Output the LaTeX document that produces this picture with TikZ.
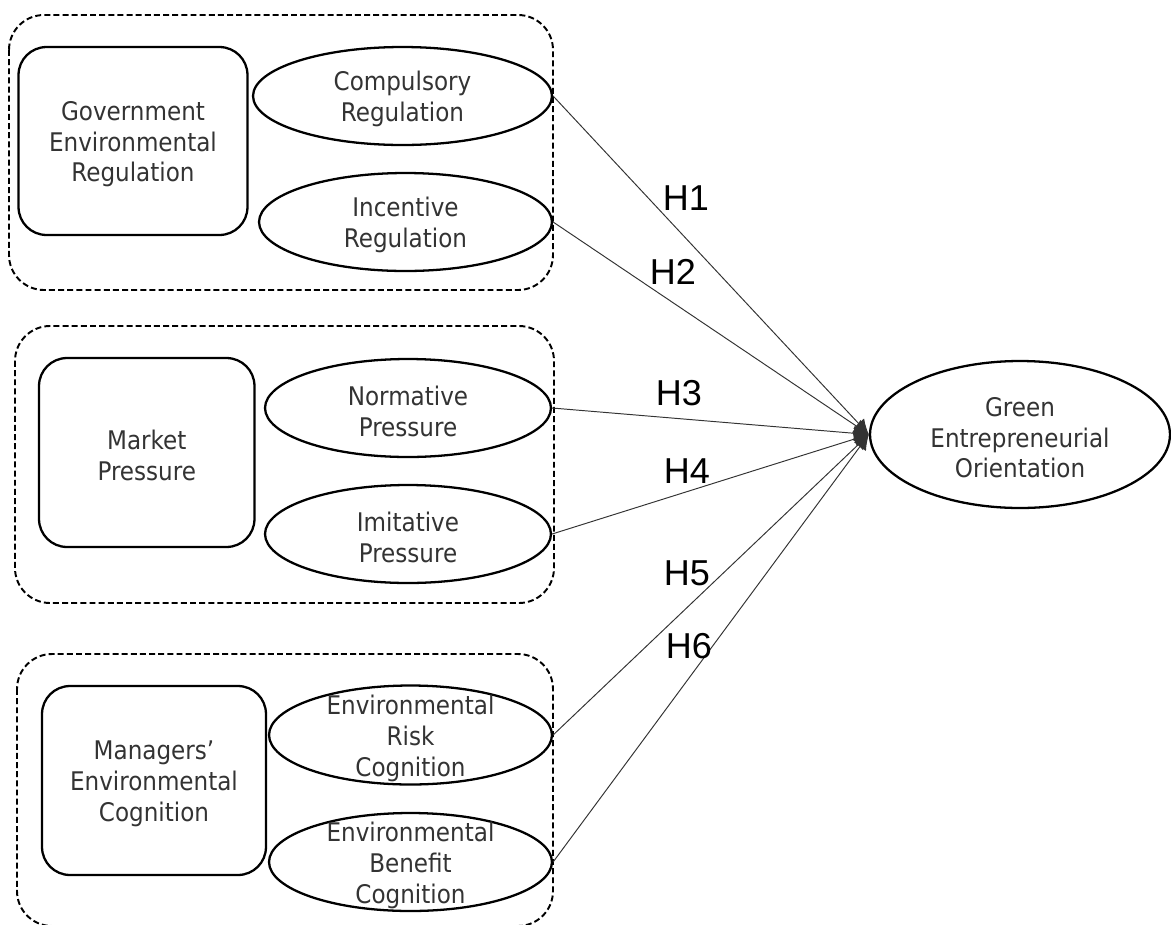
\documentclass[tikz,border=0pt]{standalone}
\usepackage{fontspec}
\setmainfont{DejaVu Sans Condensed}
\newfontfamily\hfont{Liberation Sans}
\usetikzlibrary{shapes.geometric,arrows.meta}
\begin{document}
\begin{tikzpicture}[x=0.02cm,y=-0.02cm,
  grp/.style={draw=black, line width=1.1pt, dash pattern=on 3.4pt off 1.8pt, rounded corners=0.7cm},
  cbox/.style={draw=black, line width=1.3pt, rounded corners=0.56cm, rectangle, inner sep=0pt},
  ell/.style={draw=black, line width=1.3pt, ellipse, inner sep=0pt},
  txt/.style={text=black!80, align=center, inner sep=0pt, yshift=-1.8pt, font=\fontsize{14.6}{17.6}\selectfont},
  hyp/.style={font=\hfont\fontsize{20.5}{24}\selectfont, inner sep=0pt},
  conn/.style={draw=black!80, line width=0.55pt, -{Latex[length=0.3cm,width=0.3cm]}}]

\useasboundingbox (0,0) rectangle (1171,924);

% group containers
\draw[grp] (9,15) rectangle (553,290);
\draw[grp] (15,326) rectangle (554,603);
\draw[grp] (17,654) rectangle (553,926);

% construct boxes
\node[cbox, minimum width=4.58cm, minimum height=3.76cm, label={[txt]center:Government\\Environmental\\Regulation}] (ger) at (133,141) {};
\node[cbox, minimum width=4.31cm, minimum height=3.78cm, label={[txt]center:Market\\Pressure}] (mp) at (146.75,452.5) {};
\node[cbox, minimum width=4.48cm, minimum height=3.78cm, label={[txt]center:Managers’\\Environmental\\Cognition}] (mec) at (154,780.5) {};

% dimension ellipses
\node[ell, minimum width=5.98cm, minimum height=1.96cm, label={[txt]center:Compulsory\\Regulation}] (cr) at (402.5,96) {};
\node[ell, minimum width=5.86cm, minimum height=1.96cm, label={[txt]center:Incentive\\Regulation}] (ir) at (405.5,222) {};
\node[ell, minimum width=5.72cm, minimum height=1.96cm, label={[txt]center:Normative\\Pressure}] (np) at (408,408) {};
\node[ell, minimum width=5.72cm, minimum height=1.96cm, label={[txt]center:Imitative\\Pressure}] (ip) at (408,534) {};
\node[ell, minimum width=5.66cm, minimum height=1.98cm, label={[txt]center:Environmental\\Risk\\Cognition}] (erc) at (410.5,735) {};
\node[ell, minimum width=5.66cm, minimum height=1.96cm, label={[txt]center:Environmental\\Benefit\\Cognition}] (ebc) at (410.5,862) {};

% outcome
\node[ell, minimum width=6cm, minimum height=2.94cm, label={[txt]center:Green\\Entrepreneurial\\Orientation}] (geo) at (1020,434.5) {};

% connectors
\draw[conn] (cr.east) -- (geo.west);
\draw[conn] (ir.east) -- (geo.west);
\draw[conn] (np.east) -- (geo.west);
\draw[conn] (ip.east) -- (geo.west);
\draw[conn] (erc.east) -- (geo.west);
\draw[conn] (ebc.east) -- (geo.west);

% hypothesis labels
\node[hyp] (h1) at (686,198) {H1};
\node[hyp] (h2) at (673,272) {H2};
\node[hyp] (h3) at (679,393) {H3};
\node[hyp] (h4) at (687,471) {H4};
\node[hyp] (h5) at (687,573) {H5};
\node[hyp] (h6) at (689,646) {H6};
\end{tikzpicture}
\end{document}
